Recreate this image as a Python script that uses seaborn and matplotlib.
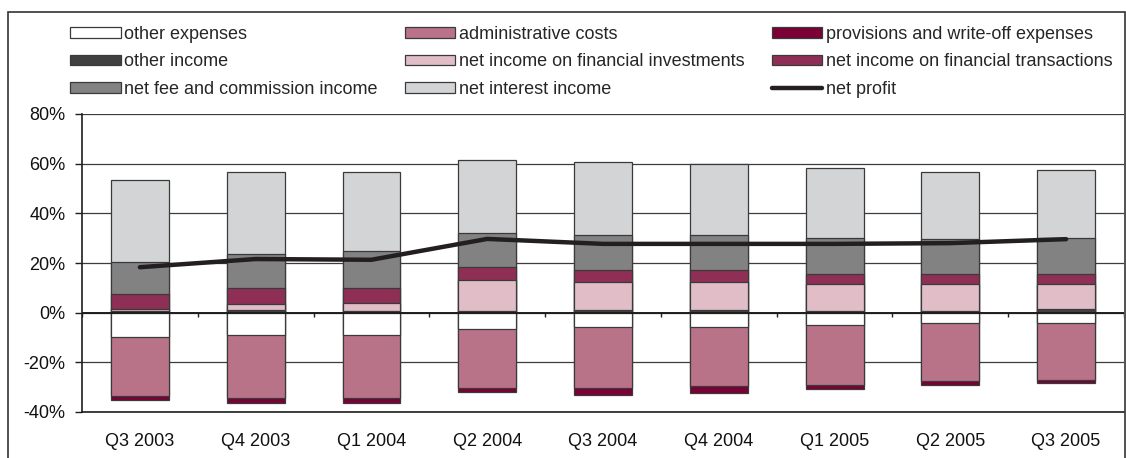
import numpy as np
import matplotlib.pyplot as plt
import seaborn as sns
from matplotlib.patches import Patch, Rectangle
from matplotlib.lines import Line2D
from matplotlib.ticker import FuncFormatter

# Daten (in % )
quarters = ['Q3 2003', 'Q4 2003', 'Q1 2004', 'Q2 2004', 'Q3 2004',
            'Q4 2004', 'Q1 2005', 'Q2 2005', 'Q3 2005']
other_income = [0.5, 0.9, 0.8, 0.7, 0.9, 0.9, 0.7, 0.7, 1.5]
fin_investments = [0.8, 2.7, 2.9, 12.6, 11.6, 11.6, 11.0, 11.0, 10.2]
fin_transactions = [6.4, 6.5, 6.4, 5.0, 4.8, 4.8, 3.9, 3.9, 3.9]
net_fee = [12.8, 13.6, 14.6, 13.6, 13.8, 13.8, 14.5, 13.9, 14.5]
net_interest = [32.8, 33.0, 32.0, 29.6, 29.6, 28.8, 28.2, 27.2, 27.4]
other_expenses = [-9.9, -9.1, -9.1, -6.7, -5.7, -5.7, -5.1, -4.1, -4.1]
admin_costs = [-23.7, -25.4, -25.4, -23.7, -24.7, -24.0, -24.0, -23.4, -23.1]
provisions = [-1.7, -1.8, -1.8, -1.7, -2.7, -2.6, -1.6, -1.6, -1.1]
net_profit = [18.3, 21.6, 21.3, 29.7, 27.7, 27.7, 27.7, 28.0, 29.6]

sns.set_style("white")
plt.rcParams['font.family'] = ['Liberation Sans', 'DejaVu Sans']

edge = '#3a3a3a'
# positive stack from zero upwards
pos_stack = [
    ('other income', other_income, '#404040'),
    ('net income on financial investments', fin_investments, '#e0bdc7'),
    ('net income on financial transactions', fin_transactions, '#8f2f56'),
    ('net fee and commission income', net_fee, '#828282'),
    ('net interest income', net_interest, '#d3d4d6'),
]
# negative stack from zero downwards
neg_stack = [
    ('other expenses', other_expenses, '#ffffff'),
    ('administrative costs', admin_costs, '#b87389'),
    ('provisions and write-off expenses', provisions, '#7a0035'),
]

fig = plt.figure(figsize=(11.26, 4.58), dpi=100)
ax = fig.add_axes([82 / 1126, 1 - 412 / 458, (1124 - 82) / 1126, (412 - 114) / 458])

# gestapelte Balken: kumulierte Summen, größte zuerst
for stack in (pos_stack, neg_stack):
    cum = np.cumsum([s[1] for s in stack], axis=0)
    for i in range(len(stack) - 1, -1, -1):
        sns.barplot(x=quarters, y=cum[i], color=stack[i][2], saturation=1,
                    width=0.5, edgecolor=edge, linewidth=0.9, errorbar=None,
                    ax=ax, zorder=2)

ax.axhline(0, color='#1e1e1e', lw=1.4, zorder=3)
ax.vlines(np.arange(len(quarters) + 1) - 0.5, -1.8, 0, color='#1e1e1e', lw=1, zorder=3)

sns.lineplot(x=np.arange(len(quarters)), y=net_profit, color='#231f20', lw=3.2,
             sort=False, ax=ax, zorder=4)

ax.set_xlim(-0.5, len(quarters) - 0.5)
ax.set_ylim(-40, 80)
ax.set_yticks(range(-40, 81, 20))
ax.yaxis.set_major_formatter(FuncFormatter(lambda v, p: f"{int(v)}%"))
ax.yaxis.grid(True, color='#3c3c3c', lw=0.9)
ax.set_axisbelow(True)
ax.tick_params(axis='y', left=True, length=5, width=1, color='#1e1e1e',
               labelsize=13, labelcolor='#111111', pad=7)
ax.tick_params(axis='x', bottom=False, length=0, labelsize=13,
               labelcolor='#111111', pad=15)
ax.set_xlabel('')
ax.set_ylabel('')
for s in ('top', 'right'):
    ax.spines[s].set_visible(False)
for s in ('left', 'bottom'):
    ax.spines[s].set_color('#1e1e1e')
    ax.spines[s].set_linewidth(1.2)

# Legende (zeilenweise wie im Original)
lookup = {n: c for n, _, c in pos_stack + neg_stack}
def box(name):
    return Patch(facecolor=lookup[name], edgecolor=edge, linewidth=0.9, label=name)

handles = [
    box('other expenses'), box('other income'), box('net fee and commission income'),
    box('administrative costs'), box('net income on financial investments'), box('net interest income'),
    box('provisions and write-off expenses'), box('net income on financial transactions'),
    Line2D([], [], color='#231f20', lw=3.2, label='net profit'),
]
fig.legend(handles=handles, ncol=3, loc='upper left',
           bbox_to_anchor=(70 / 1126, 1 - 26 / 458), frameon=False,
           fontsize=13, handlelength=2.8, handleheight=0.5, handletextpad=0.2,
           columnspacing=1.5, labelspacing=0.58, borderpad=0, borderaxespad=0)

# Rahmen um das Diagramm
fig.patches.append(Rectangle((8 / 1126, -0.01), (1125 - 8) / 1126, 1.01 - 12 / 458,
                             transform=fig.transFigure, fill=False,
                             edgecolor='#333333', lw=1.2))

plt.savefig('out.png', dpi=100)
plt.close()
